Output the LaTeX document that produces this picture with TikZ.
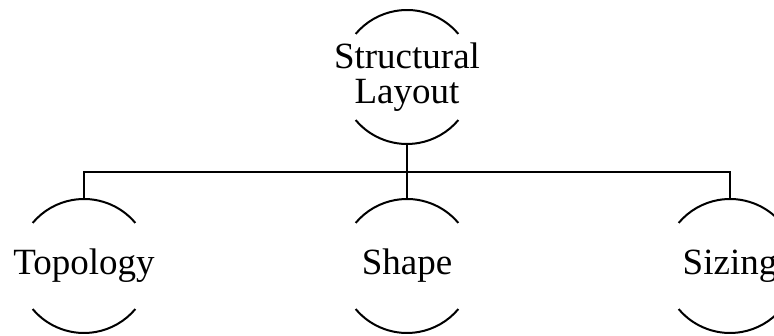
\documentclass[tikz,border=0pt]{standalone}
\usepackage{fontspec}
\setmainfont{Liberation Serif}
\usepackage{tikz}
\usetikzlibrary{positioning, calc}
\tikzset{
  topic/.style={circle, minimum size=134pt, inner sep=0pt, align=center, font=\fontsize{37}{35}\selectfont},
  rim/.style={line width=2pt},
  link/.style={line width=2.6pt}
}
\newcommand{\openring}[1]{%
  \draw[rim] ($(#1.center)+(40:67pt)$) arc[start angle=40, end angle=140, radius=67pt];
  \draw[rim] ($(#1.center)+(220:67pt)$) arc[start angle=220, end angle=320, radius=67pt];
}

\begin{document}
\begin{tikzpicture}[x=1pt, y=1pt]
        \useasboundingbox (0,0) rectangle (774,336);
        \clip (0,0) rectangle (774,336);

        % Topics
        \node[topic] (layout)   at (407,259) {Structural\\Layout};
        \node[topic] (topology) at ( 84, 70) {Topology};
        \node[topic] (shape)    at (407, 70) {Shape};
        \node[topic] (sizing)   at (730, 70) {Sizing};

        \openring{layout}
        \openring{topology}
        \openring{shape}
        \openring{sizing}

        % Links
        \coordinate (bus) at (407,164);
        \draw[link] ($(layout.center)+(0,-67)$) -- (bus);
        \draw[link] ($(topology.center)+(0,67)$) |- (bus) -| ($(sizing.center)+(0,67)$);
        \draw[link] (bus) -- ($(shape.center)+(0,67)$);
    \end{tikzpicture}
\end{document}
